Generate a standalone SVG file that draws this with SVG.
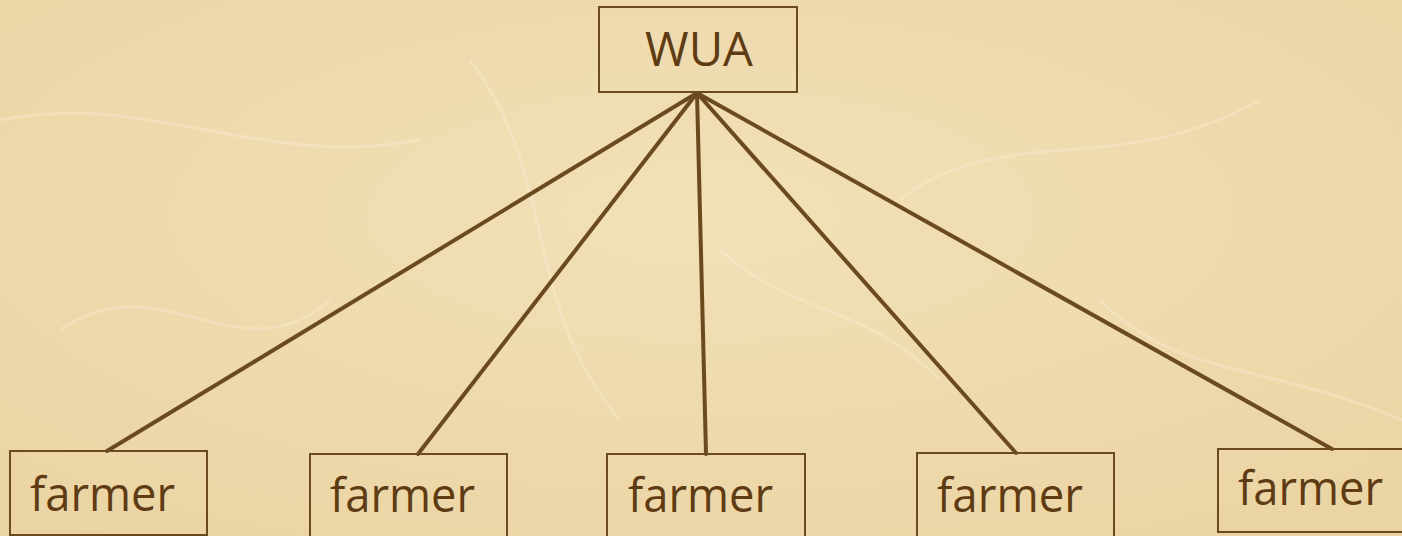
<svg xmlns="http://www.w3.org/2000/svg" width="1402" height="536" viewBox="0 0 1402 536">
<style>
.box{fill:none;stroke:#6b4a1f;stroke-width:2}
.lbl{font-family:"Open Sans","Liberation Sans",sans-serif;font-size:48px;fill:#5e3b12}
.conn line{stroke:#6b4a1f;stroke-width:4;stroke-linecap:round}
</style>
<defs>
<radialGradient id="bg" cx="50%" cy="40%" r="75%">
<stop offset="0" stop-color="#f2e0b8"/>
<stop offset="1" stop-color="#ebd4a3"/>
</radialGradient>
</defs>
<rect width="1402" height="536" fill="url(#bg)"/>
<g opacity="0.3" fill="none" stroke="#fbf3e0" stroke-width="3">
<path d="M0 120 C150 90 260 170 420 140"/>
<path d="M470 60 C560 180 520 300 620 420"/>
<path d="M900 200 C1000 120 1120 180 1260 100"/>
<path d="M1100 300 C1180 380 1260 360 1402 420"/>
<path d="M60 330 C160 260 240 380 330 300"/>
<path d="M720 250 C800 320 860 300 940 380"/>
</g>
<g class="conn" id="connectors">
<line x1="697" y1="93" x2="107" y2="451"/>
<line x1="697" y1="93" x2="418" y2="454"/>
<line x1="697" y1="93" x2="706" y2="454"/>
<line x1="697" y1="93" x2="1016" y2="453"/>
<line x1="697" y1="93" x2="1332" y2="449"/>
</g>
<g id="wua">
<rect class="box" x="599" y="7" width="198" height="85"/>
<text class="lbl" x="645" y="66" textLength="108" lengthAdjust="spacingAndGlyphs">WUA</text>
</g>
<g id="farmer1">
<rect class="box" x="10" y="451" width="197" height="84"/>
<text class="lbl" x="30" y="511" textLength="145" lengthAdjust="spacingAndGlyphs">farmer</text>
</g>
<g id="farmer2">
<rect class="box" x="310" y="454" width="197" height="84"/>
<text class="lbl" x="330" y="512" textLength="145" lengthAdjust="spacingAndGlyphs">farmer</text>
</g>
<g id="farmer3">
<rect class="box" x="607" y="454" width="198" height="84"/>
<text class="lbl" x="628" y="512" textLength="145" lengthAdjust="spacingAndGlyphs">farmer</text>
</g>
<g id="farmer4">
<rect class="box" x="917" y="453" width="197" height="84"/>
<text class="lbl" x="937" y="512" textLength="146" lengthAdjust="spacingAndGlyphs">farmer</text>
</g>
<g id="farmer5">
<rect class="box" x="1218" y="449" width="197" height="83"/>
<text class="lbl" x="1238" y="505" textLength="145" lengthAdjust="spacingAndGlyphs">farmer</text>
</g>
</svg>
